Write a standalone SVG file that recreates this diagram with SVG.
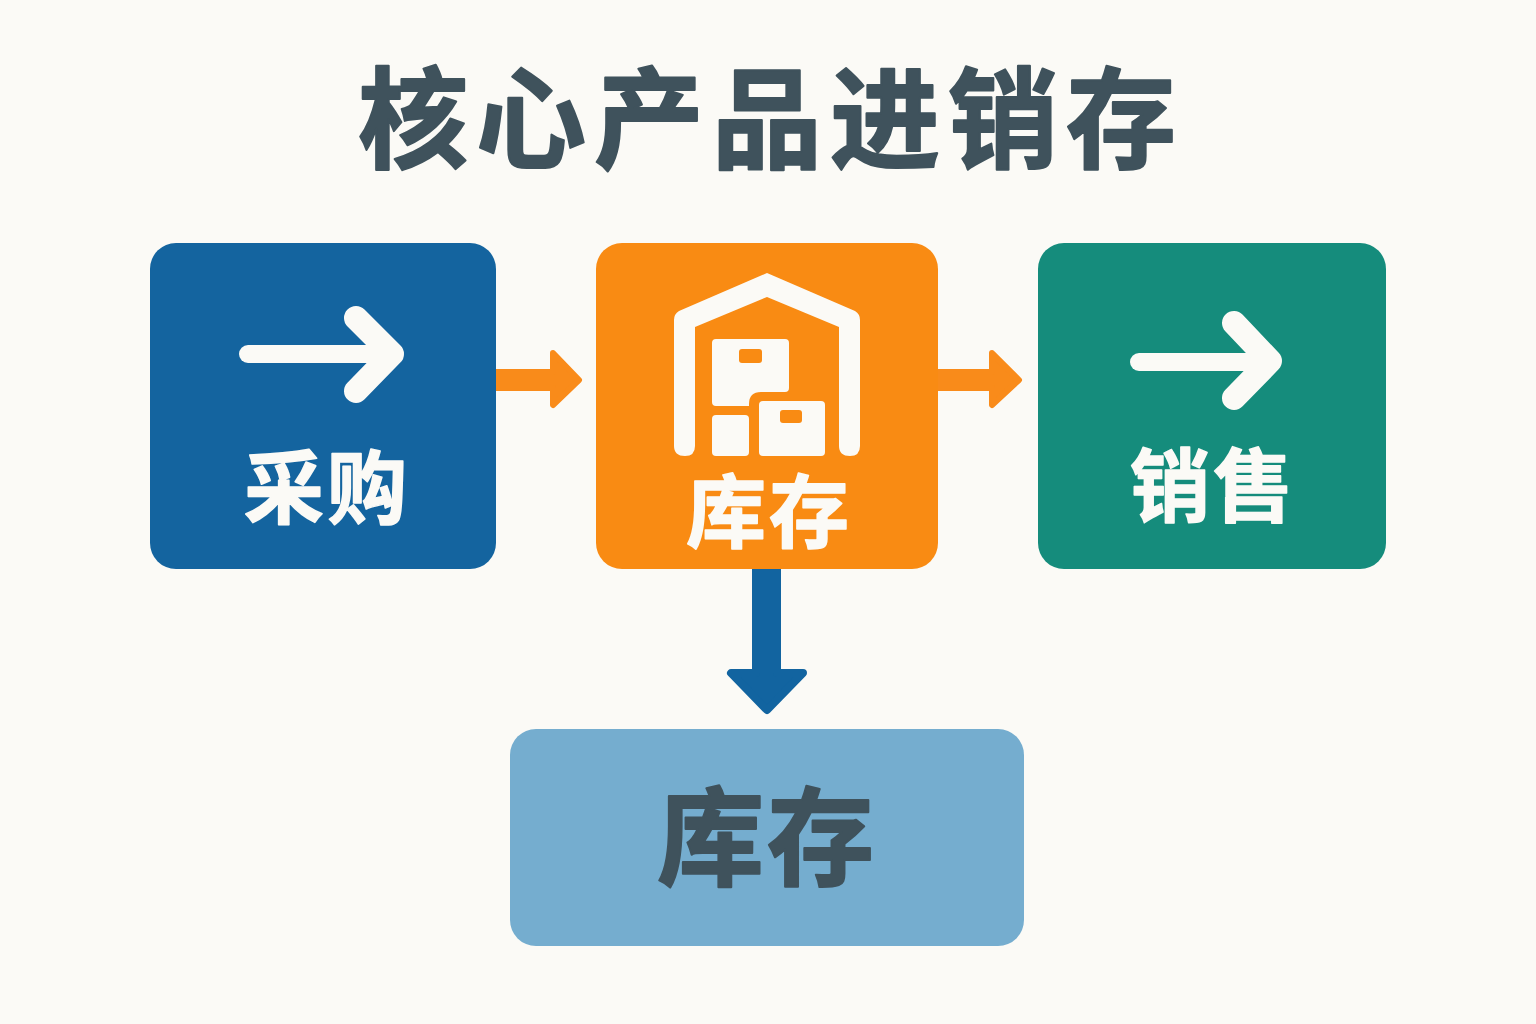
<svg xmlns="http://www.w3.org/2000/svg" width="1536" height="1024" viewBox="0 0 1536 1024">
<style>
text{font-family:"Noto Sans CJK SC","Noto Sans CJK TC",sans-serif;font-weight:700;text-anchor:middle;stroke-linejoin:round}
.w{fill:#fbfaf6;stroke:#fbfaf6;stroke-width:1.5;font-size:80px;letter-spacing:3px}
.d{fill:#3f525c;stroke:#3f525c;stroke-width:2}
.shaft{fill:none;stroke:#fbfaf6;stroke-width:18;stroke-linecap:round}
.chev{fill:none;stroke:#fbfaf6;stroke-width:24;stroke-linecap:round;stroke-linejoin:round}
.bx{fill:#fbfaf6}
.hole{fill:#f98b13}
.or{fill:#f98b1a;stroke:#f98b1a;stroke-width:6;stroke-linejoin:round}
.bl{fill:#1264a0;stroke:#1264a0;stroke-width:8;stroke-linejoin:round}
</style>
<rect width="1536" height="1024" fill="#fbfaf6"/>
<text id="title" class="d" x="771" y="160" font-size="110" letter-spacing="8">核心产品进销存</text>
<g id="connectors">
<path class="or" d="M496 372H553V353L579 380L553 405V388H496Z"/>
<path class="or" d="M938 372H992V353L1019 380L992 405V388H938Z"/>
<path class="bl" d="M756 569H777V673H803L767 710L731 673H756Z"/>
</g>
<g id="node-purchase">
<rect x="150" y="243" width="346" height="326" rx="26" fill="#14649f"/>
<path class="shaft" d="M248 354H385"/>
<path class="chev" d="M356 318L392 354L356 391"/>
<text class="w" x="327" y="517">采购</text>
</g>
<g id="node-warehouse">
<rect x="596" y="243" width="342" height="326" rx="26" fill="#f98b13"/>
<path class="bx" d="M767 273L855 311Q860 314 860 320V446Q860 456 850 456Q839 456 839 446V327L767 297L695 327V446Q695 456 685 456Q674 456 674 446V320Q674 314 679 311Z"/>
<path class="bx" d="M716 339H785Q789 339 789 343V388Q789 392 785 392H761Q749 392 749 404V406H716Q712 406 712 402V343Q712 339 716 339Z"/>
<rect class="hole" x="739" y="349" width="23" height="14" rx="3"/>
<rect class="bx" x="759" y="401" width="66" height="55" rx="4"/>
<rect class="hole" x="780" y="410" width="22" height="13" rx="3"/>
<rect class="bx" x="712" y="415" width="37" height="41" rx="4"/>
<text class="w" x="769" y="541">库存</text>
</g>
<g id="node-sales">
<rect x="1038" y="243" width="348" height="326" rx="26" fill="#158c7c"/>
<path class="shaft" d="M1139 362H1262"/>
<path class="chev" d="M1234 323L1270 361L1234 398"/>
<text class="w" x="1213" y="515">销售</text>
</g>
<g id="node-stock">
<rect x="510" y="729" width="514" height="217" rx="26" fill="#75adcf"/>
<text class="d" x="767" y="877" font-size="107" letter-spacing="3">库存</text>
</g>
</svg>
